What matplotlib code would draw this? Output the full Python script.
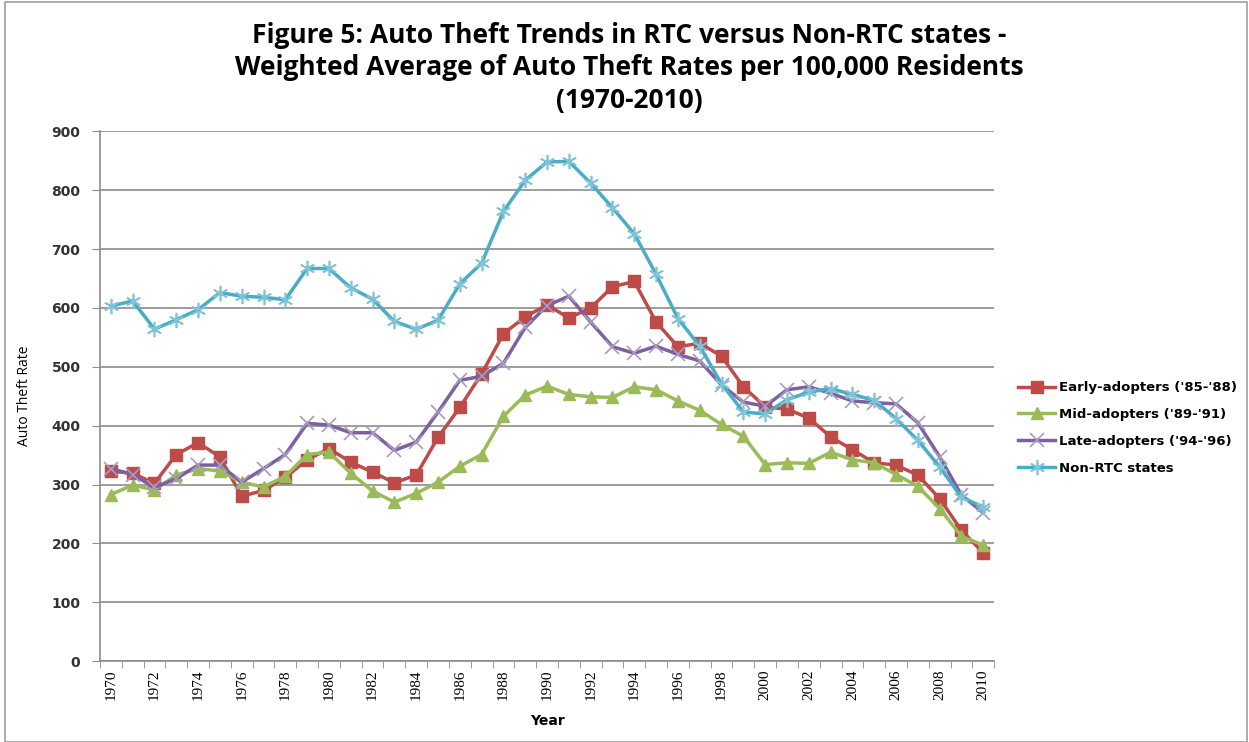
#!/usr/bin/env python3
import matplotlib
matplotlib.use("Agg")
import matplotlib.pyplot as plt
from matplotlib.patches import Rectangle
import numpy as np

years = list(range(1970, 2011))

early = [323, 319, 302, 351, 371, 347, 280, 290, 312, 342,
         361, 338, 321, 303, 316, 380, 431, 488, 556, 585,
         605, 583, 600, 636, 645, 576, 534, 540, 518, 466,
         432, 428, 413, 381, 359, 337, 333, 316, 276, 222, 184]

mid = [283, 299, 291, 316, 327, 323, 304, 296, 314, 351,
       355, 319, 289, 270, 285, 304, 331, 351, 416, 452,
       467, 453, 449, 448, 466, 461, 442, 426, 402, 382,
       334, 337, 336, 355, 342, 337, 317, 297, 259, 212, 197]

late = [327, 317, 295, 310, 333, 333, 304, 327, 351, 404,
        401, 388, 388, 358, 372, 423, 477, 484, 506, 567,
        604, 620, 576, 534, 523, 535, 521, 510, 469, 440,
        433, 461, 466, 455, 442, 439, 437, 405, 347, 282, 252]

nonrtc = [603, 612, 564, 580, 597, 626, 620, 618, 614, 667,
          667, 634, 615, 577, 564, 579, 641, 676, 764, 817,
          848, 849, 812, 770, 726, 657, 582, 535, 471, 423,
          420, 444, 457, 463, 453, 443, 412, 375, 330, 278, 262]

fig = plt.figure(figsize=(12.49, 7.42), dpi=100)
ax = fig.add_axes([0.080, 0.109, 0.716, 0.714])

fig.patches.append(Rectangle((0.004, 0.0), 0.994, 0.997, transform=fig.transFigure,
                             fill=False, edgecolor='#a0a0a0', linewidth=1.2))

ax.plot(years, early, color='#BE4B48', label="Early-adopters ('85-'88)", linewidth=2.5,
        marker='s', markersize=8, markerfacecolor='#BE4B48', markeredgecolor='#BE4B48')
ax.plot(years, mid, color='#9BBB59', label="Mid-adopters ('89-'91)", linewidth=2.5,
        marker='^', markersize=8, markerfacecolor='#9BBB59', markeredgecolor='#9BBB59')
ax.plot(years, late, color='#7D60A0', label="Late-adopters ('94-'96)", linewidth=2.5,
        marker='x', markersize=10, markeredgecolor='#A99BC0', markeredgewidth=1.2)
ax.plot(years, nonrtc, color='#4BACC6', label='Non-RTC states', linewidth=2.5,
        marker=(6, 2, 0), markersize=11, markeredgecolor='#7FC3D8', markeredgewidth=1.2)

ax.set_xlim(1969.5, 2010.5)
ax.set_ylim(0, 900)
ax.set_yticks(np.arange(0, 901, 100))
ax.yaxis.grid(True, color='#8c8c8c', linewidth=1.2)
ax.set_axisbelow(True)

ax.set_xticks(range(1970, 2011, 2))
ax.set_xticks(np.arange(1969.5, 2011, 1), minor=True)
ax.tick_params(axis='x', which='major', length=0, pad=6)
ax.tick_params(axis='x', which='minor', length=5, color='#8c8c8c')
ax.tick_params(axis='y', length=6, color='#8c8c8c', pad=8)
for lbl in ax.get_xticklabels():
    lbl.set_rotation(90)
    lbl.set_fontfamily('Liberation Serif')
    lbl.set_fontsize(11)
for lbl in ax.get_yticklabels():
    lbl.set_fontfamily('DejaVu Sans')
    lbl.set_fontweight('bold')
    lbl.set_fontsize(10)
    lbl.set_color('#333333')

for s in ['top', 'right']:
    ax.spines[s].set_visible(False)
for s in ['left', 'bottom']:
    ax.spines[s].set_color('#8c8c8c')
    ax.spines[s].set_linewidth(1.2)

ax.set_xlabel('Year', fontsize=10, fontweight='bold', labelpad=10)
ax.set_ylabel('Auto Theft Rate', fontsize=10, family='Open Sans', labelpad=14)

fig.text(0.504, 0.952, 'Figure 5: Auto Theft Trends in RTC versus Non-RTC states -',
         ha='center', va='center', fontsize=19, fontweight='bold', family='Open Sans')
fig.text(0.504, 0.909, 'Weighted Average of Auto Theft Rates per 100,000 Residents',
         ha='center', va='center', fontsize=19, fontweight='bold', family='Open Sans')
fig.text(0.504, 0.865, '(1970-2010)',
         ha='center', va='center', fontsize=19, fontweight='bold', family='Open Sans')

ax.legend(loc='center left', bbox_to_anchor=(1.027, 0.44), frameon=False,
          borderaxespad=0, borderpad=0,
          prop={'size': 9.5, 'weight': 'bold', 'family': 'DejaVu Sans'},
          handlelength=2.8, labelspacing=1.05, handletextpad=0.25)

fig.savefig('out.png', dpi=100)
